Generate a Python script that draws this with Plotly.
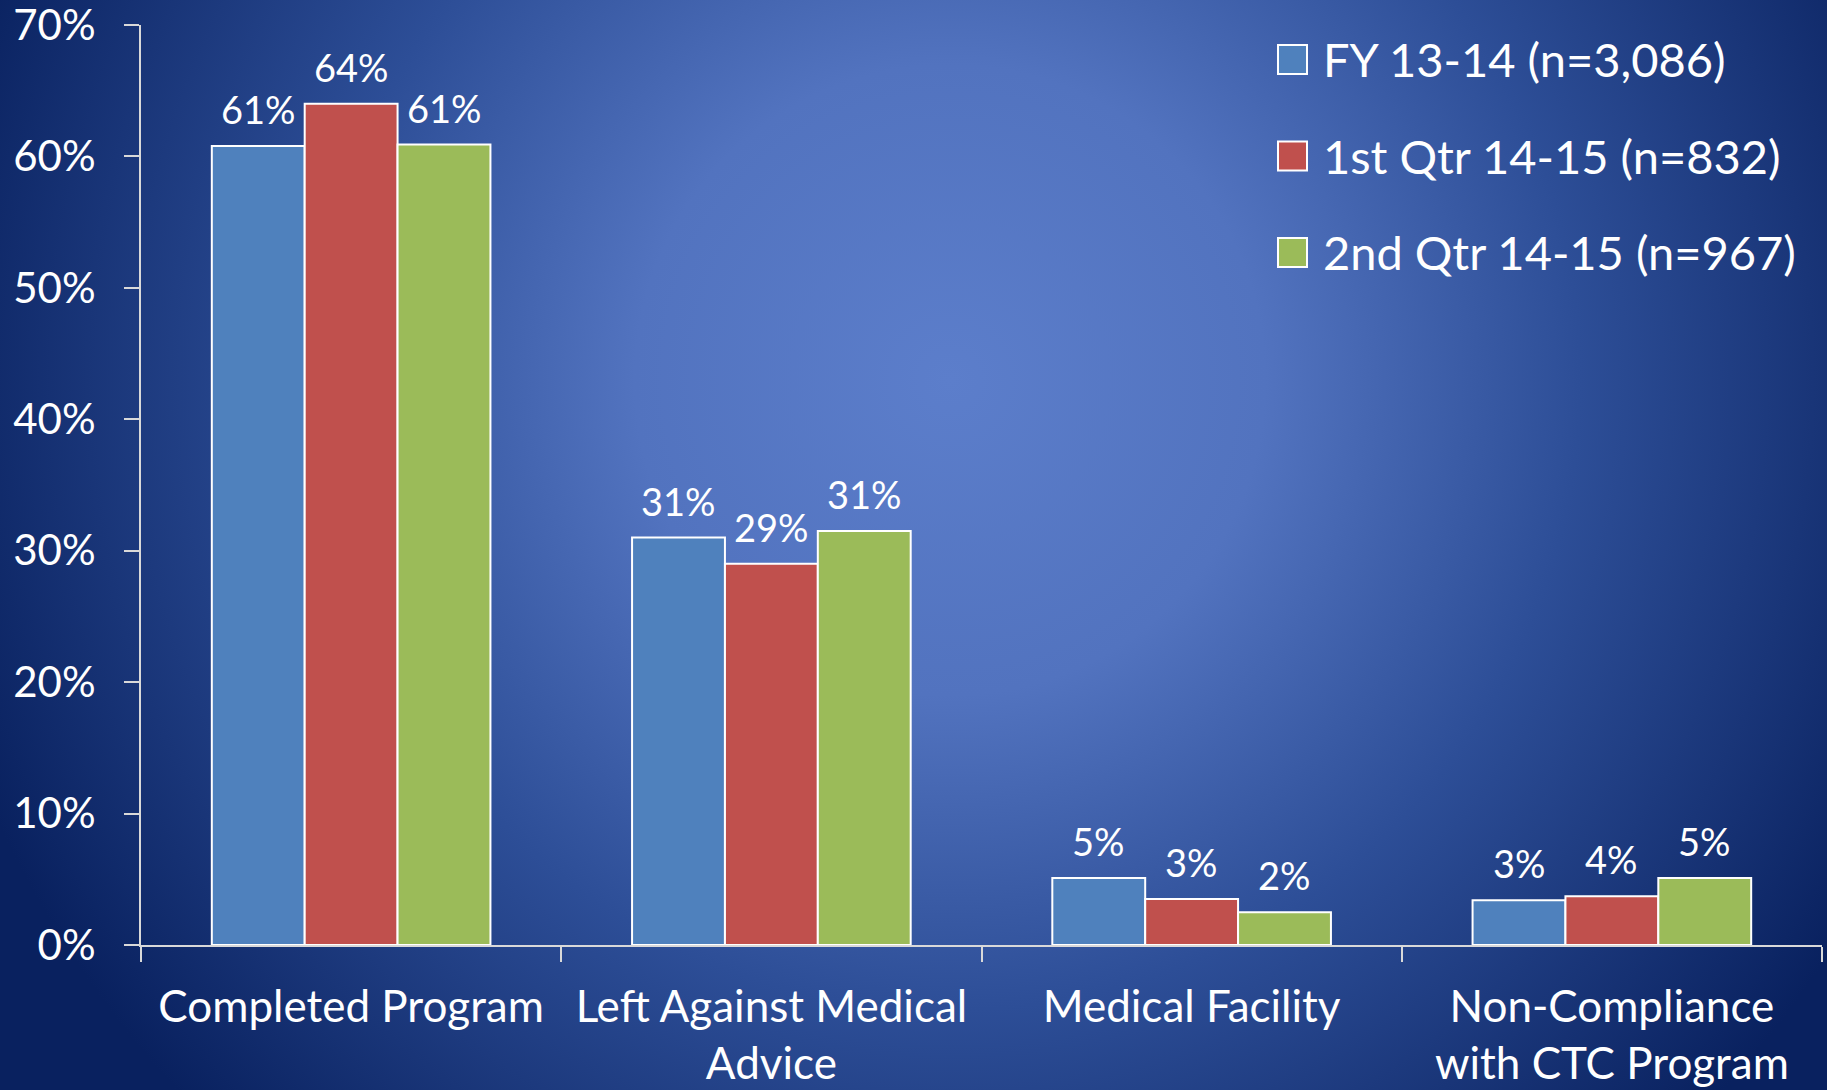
import plotly.graph_objects as go

categories = ["Completed Program", "Left Against Medical<br>Advice", "Medical Facility", "Non-Compliance<br>with CTC Program"]
series_names = ["FY 13-14 (n=3,086)", "1st Qtr 14-15 (n=832)", "2nd Qtr 14-15 (n=967)"]
fy1314 = [60.8, 31.0, 5.1, 3.4]
q1_1415 = [64.0, 29.0, 3.5, 3.7]
q2_1415 = [60.9, 31.5, 2.5, 5.1]
fy1314_labels = ["61%", "31%", "5%", "3%"]
q1_labels = ["64%", "29%", "3%", "4%"]
q2_labels = ["61%", "31%", "2%", "5%"]
y_ticks = [0, 10, 20, 30, 40, 50, 60, 70]
y_tick_labels = ["0%", "10%", "20%", "30%", "40%", "50%", "60%", "70%"]

colors = ["#4F81BD", "#C0504D", "#9BBB59"]
values = [fy1314, q1_1415, q2_1415]
labels = [fy1314_labels, q1_labels, q2_labels]

W, H = 1827, 1090
ml, mr, mt, mb = 141, 5, 25, 145
pw, ph = W - ml - mr, H - mt - mb
BARGAP = 0.337

FONT = "Lato"

fig = go.Figure()
for name, vals, col in zip(series_names, values, colors):
    fig.add_trace(go.Bar(
        x=categories, y=vals, name=name,
        marker=dict(color=col, line=dict(color="white", width=2)),
        showlegend=False,
    ))

# data labels as annotations, offset within each group
cat_px = pw / len(categories)
bar_px = cat_px * (1 - BARGAP) / len(series_names)
for s, (vals, labs) in enumerate(zip(values, labels)):
    off = (s - (len(series_names) - 1) / 2) * bar_px
    for c, v, t in zip(categories, vals, labs):
        fig.add_annotation(x=c, y=v, xref="x", yref="y", text=t, showarrow=False,
                           xshift=off, yshift=12, yanchor="bottom",
                           font=dict(color="white", size=38, family=FONT))

# legend (drawn as boxes + text in paper coordinates)
def px_x(p):
    return (p - ml) / pw

def px_y(p):
    return 1 - (p - mt) / ph

LEG_X, LEG_Y0, LEG_STEP, BOX = 1278, 45, 96.5, 29
for i, (name, col) in enumerate(zip(series_names, colors)):
    top = LEG_Y0 + i * LEG_STEP
    fig.add_shape(type="rect", xref="paper", yref="paper",
                  x0=px_x(LEG_X), x1=px_x(LEG_X + BOX), y0=px_y(top + BOX), y1=px_y(top),
                  fillcolor=col, line=dict(color="white", width=2))
    fig.add_annotation(xref="paper", yref="paper", x=px_x(LEG_X + BOX + 14), y=px_y(top + BOX / 2),
                       xanchor="left", yanchor="middle", text=name, showarrow=False,
                       font=dict(color="white", size=47, family=FONT))

svg = (
    "<svg xmlns='http://www.w3.org/2000/svg' width='1827' height='1090' viewBox='0 0 1827 1090' preserveAspectRatio='none'>"
    "<defs><radialGradient id='g' gradientUnits='userSpaceOnUse' cx='950' cy='380' r='1050' fx='950' fy='380'>"
    "<stop offset='0' stop-color='#5C7ECB'/>"
    "<stop offset='0.3' stop-color='#5273BF'/>"
    "<stop offset='0.6' stop-color='#2D4E97'/>"
    "<stop offset='1' stop-color='#09215F'/>"
    "</radialGradient></defs>"
    "<rect width='1827' height='1090' fill='url(#g)'/></svg>"
)
src = "data:image/svg+xml;charset=utf-8," + svg.replace("#", "%23").replace("<", "%3C").replace(">", "%3E").replace("'", "%27").replace(" ", "%20")

fig.add_layout_image(dict(
    source=src, xref="paper", yref="paper",
    x=-ml / pw, y=1 + mt / ph, sizex=W / pw, sizey=H / ph,
    xanchor="left", yanchor="top", sizing="stretch", layer="below",
))

fig.update_layout(
    width=W, height=H,
    margin=dict(l=ml, r=mr, t=mt, b=mb, autoexpand=False),
    paper_bgcolor="#163170", plot_bgcolor="rgba(0,0,0,0)",
    barmode="group", bargap=BARGAP, bargroupgap=0,
    font=dict(family=FONT, color="white", size=36),
    showlegend=False,
    xaxis=dict(showgrid=False, showline=True, linecolor="#D9D9D9", linewidth=2,
               ticks="outside", ticklen=15, tickcolor="#D9D9D9", tickwidth=2,
               tickson="boundaries", tickfont=dict(size=44, color="white", family=FONT),
               ticklabelstandoff=22, zeroline=False, ticklabeloverflow="allow",
               automargin=False),
    yaxis=dict(range=[0, 70], tickvals=y_ticks, ticktext=y_tick_labels,
               showgrid=False, showline=True, linecolor="#D9D9D9", linewidth=2,
               ticks="outside", ticklen=15, tickcolor="#D9D9D9", tickwidth=2,
               tickfont=dict(size=42, color="white", family=FONT),
               ticklabelstandoff=20, zeroline=False, ticklabeloverflow="allow",
               automargin=False),
)

fig.write_html("out.html", config={"displayModeBar": False},
               post_script="document.body.style.margin='0';document.body.style.padding='0';")
